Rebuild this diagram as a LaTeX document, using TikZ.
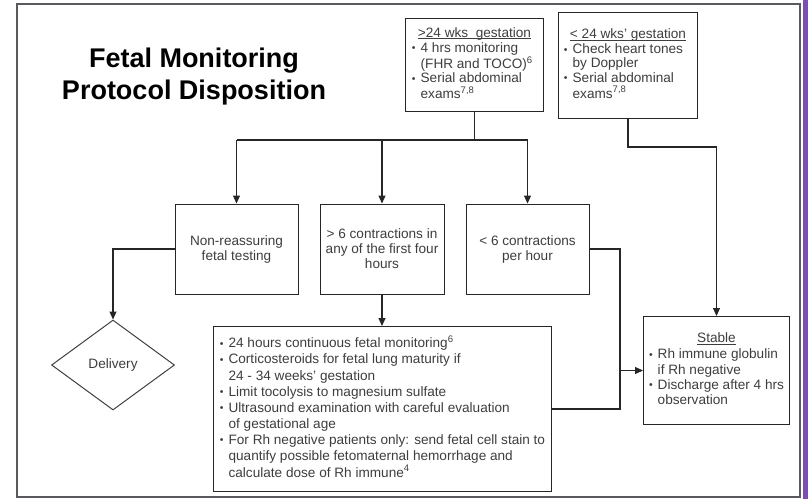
\documentclass[tikz,border=0pt]{standalone}
\usepackage{fontspec}
\setmainfont{Liberation Sans}
\usetikzlibrary{arrows.meta,shapes.geometric,positioning}

\definecolor{framegray}{RGB}{88,90,94}
\definecolor{sidepurple}{RGB}{122,78,178}
\definecolor{inkgray}{RGB}{62,62,62}

\newcommand{\dotmark}{\raisebox{0.5pt}{\fontsize{10.5}{10}\selectfont\textbullet}}
\newcommand{\headline}[1]{\underline{\smash{#1}}}

\tikzset{
  box/.style={draw=black!85, line width=1pt, inner sep=0pt, text=inkgray,
    font=\fontsize{13.6}{15}\selectfont, align=center},
  link/.style={draw=black!85, line width=1.1pt},
  arr/.style={link, -{Triangle[length=8pt,width=7pt]}},
}

\begin{document}
\begin{tikzpicture}[x=1pt,y=-1pt]
    \useasboundingbox (0,0) rectangle (808,499);
    \fill[white] (0,0) rectangle (808,499);
    \draw[framegray, line width=2.5pt] (17,4) rectangle (800,497);
    \fill[sidepurple] (803,0) rectangle (808,499);

    % title
    \node[font=\fontsize{27}{32}\selectfont\bfseries, align=center] (title) at (194,77)
        {Fetal Monitoring\\Protocol Disposition};

    % gestation boxes
    \node[box, anchor=north west, minimum width=138pt, minimum height=93pt,
        font=\fontsize{13.6}{14.2}\selectfont] (gestover) at (405,18)
        {\begin{tabular}{@{}l@{\hspace{5pt}}l@{}}
        \multicolumn{2}{c}{\headline{>24 wks\ \ gestation}}\\[1pt]
        \dotmark & 4 hrs monitoring\\
                 & (FHR and TOCO)\textsuperscript{6}\\
        \dotmark & Serial abdominal\\
                 & exams\textsuperscript{7,8}
        \end{tabular}};
    \node[box, anchor=north west, minimum width=139pt, minimum height=106pt,
        font=\fontsize{13.6}{14.2}\selectfont] (gestunder) at (558,12)
        {\begin{tabular}{@{}l@{\hspace{5pt}}l@{}}
        \multicolumn{2}{c}{\headline{< 24 wks' gestation}}\\[1pt]
        \dotmark & Check heart tones\\
                 & by Doppler\\
        \dotmark & Serial abdominal\\
                 & exams\textsuperscript{7,8}
        \end{tabular}};

    % outcome boxes
    \node[box, minimum width=123pt, minimum height=90pt] (nonreass) at (236.5,249)
        {Non-reassuring\\fetal testing};
    \node[box, minimum width=124pt, minimum height=90pt] (overSix) at (382,249)
        {> 6 contractions in\\any of the first four\\hours};
    \node[box, minimum width=123pt, minimum height=90pt] (underSix) at (527.5,249)
        {< 6 contractions\\per hour};

    \node[diamond, draw=black!75, line width=1pt, inner sep=0pt, text=inkgray,
        minimum width=123pt, minimum height=90pt, font=\fontsize{13.6}{15}\selectfont]
        (delivery) at (113,365) {Delivery};

    \node[box, anchor=north west, minimum width=338pt, minimum height=165pt,
        font=\fontsize{13.6}{16.1}\selectfont] (care) at (213,326)
        {\begin{tabular}{@{}l@{\hspace{5pt}}l@{}}
        \dotmark & 24 hours continuous fetal monitoring\textsuperscript{6}\\
        \dotmark & Corticosteroids for fetal lung maturity if\\
                 & 24 - 34 weeks' gestation\\
        \dotmark & Limit tocolysis to magnesium sulfate\\
        \dotmark & Ultrasound examination with careful evaluation\\
                 & of gestational age\\
        \dotmark & For Rh negative patients only: send fetal cell stain to\\
                 & quantify possible fetomaternal hemorrhage and\\
                 & calculate dose of Rh immune\textsuperscript{4}
        \end{tabular}};

    \node[box, anchor=north west, minimum width=146pt, minimum height=108pt,
        font=\fontsize{13.6}{15.2}\selectfont] (stable) at (643,316)
        {\begin{tabular}{@{}l@{\hspace{5pt}}l@{}}
        \multicolumn{2}{c}{\headline{Stable}}\\[1pt]
        \dotmark & Rh immune globulin\\
                 & if Rh negative\\
        \dotmark & Discharge after 4 hrs\\
                 & observation
        \end{tabular}};

    % connectors
    \coordinate (splitrow) at (0,140);
    \coordinate (rjog) at (0,147);
    \coordinate (rbus) at (620,0);

    \draw[link] (gestover.south) -- (gestover.south |- splitrow);
    \draw[link] (nonreass.north |- splitrow) -- (underSix.north |- splitrow);
    \foreach \n in {nonreass, overSix, underSix}
        \draw[arr] (\n.north |- splitrow) -- (\n.north);

    \draw[arr] (nonreass.west) -| (delivery.north);
    \draw[arr] (overSix.south) -- (overSix.south |- care.north);

    \draw[link] (underSix.east) -| (rbus |- care.east) -- (care.east);
    \draw[arr] (rbus |- stable.west) -- (stable.west);

    \draw[arr] (gestunder.south) -- (gestunder.south |- rjog) -| (stable.north);
\end{tikzpicture}
\end{document}
